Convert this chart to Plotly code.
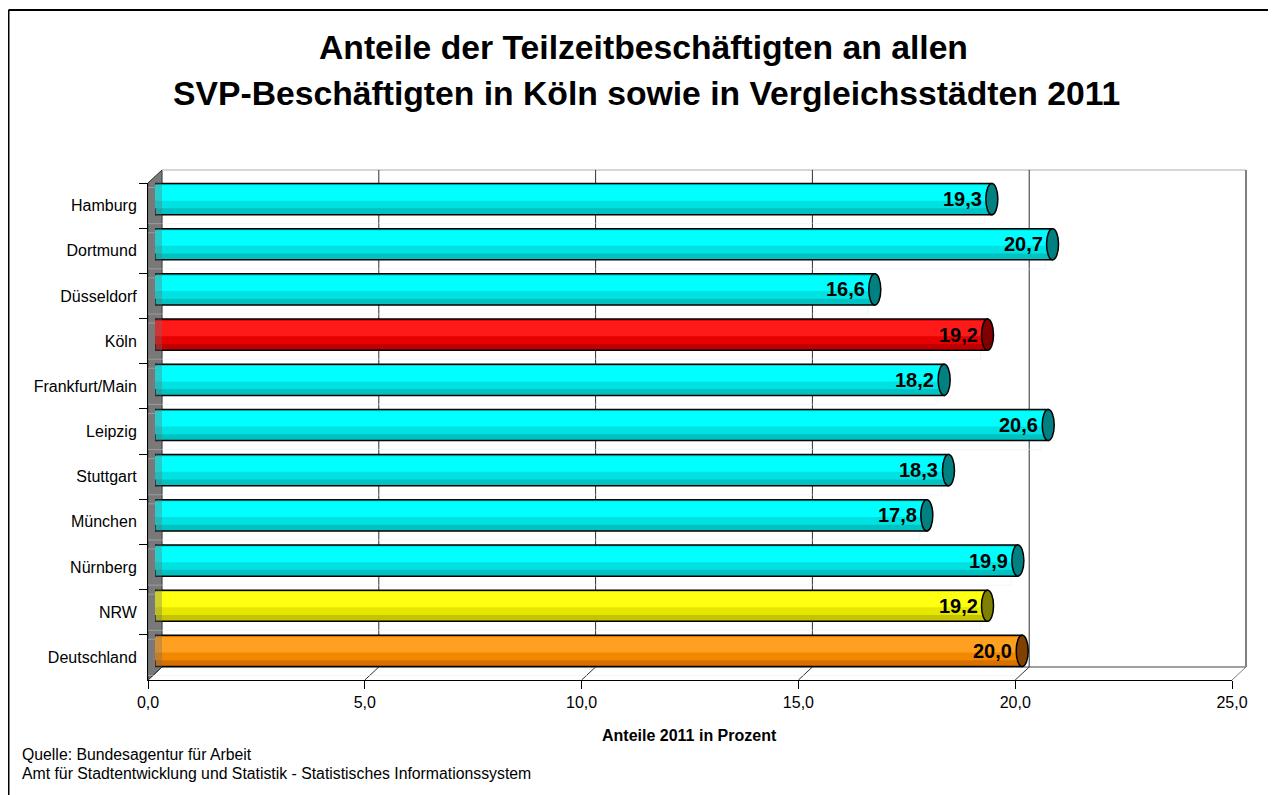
import plotly.graph_objects as go

# ---------------- data ----------------
categories = ["Hamburg", "Dortmund", "Düsseldorf", "Köln", "Frankfurt/Main", "Leipzig",
              "Stuttgart", "München", "Nürnberg", "NRW", "Deutschland"]
values = [19.3, 20.7, 16.6, 19.2, 18.2, 20.6, 18.3, 17.8, 19.9, 19.2, 20.0]
groups = ["city", "city", "city", "koeln", "city", "city", "city", "city", "city", "nrw", "de"]
x_ticks = [0, 5, 10, 15, 20, 25]

title_lines = ["Anteile der Teilzeitbeschäftigten an allen",
               "SVP-Beschäftigten in Köln sowie in Vergleichsstädten 2011"]
axis_title = "Anteile 2011 in Prozent"
source_lines = ["Quelle: Bundesagentur für Arbeit",
                "Amt für Stadtentwicklung und Statistik - Statistisches Informationssystem"]

# ---------------- styles ----------------
palette = {
    "city":  dict(base="#00C2C2", mid="#00E2E2", top="#00FFFF", cap="#008080"),
    "koeln": dict(base="#C00000", mid="#E60000", top="#FF1A1A", cap="#800000"),
    "nrw":   dict(base="#C4C400", mid="#E6E600", top="#FFFF10", cap="#808000"),
    "de":    dict(base="#D87000", mid="#F08800", top="#FFA020", cap="#804000"),
}
FONT = "Arial, Liberation Sans, sans-serif"

OFF = 8                       # page body margin offset
W_PX, H_PX = 1276 - OFF, 795 - OFF


def sx(p):  # screen px -> figure px
    return p - OFF


ML = sx(148)
MT = sx(170)
PLOT_R = sx(1246)
PLOT_B = sx(680)
MR, MB = W_PX - PLOT_R, H_PX - PLOT_B
PW, PH = W_PX - ML - MR, H_PX - MT - MB
DX, DY = 14, 13                           # depth offset (px)
FRONT_W = PW - DX
FRONT_H = PH - DY
XMAX = 25.0


def px(p):  # screen px -> paper x
    return (sx(p) - ML) / PW


def py(p):  # screen px -> paper y
    return (PLOT_B - sx(p)) / PH


def fx(v):  # front screen x of value v
    return 148 + v / XMAX * FRONT_W


FY = 680         # front floor y (screen)
BY = FY - DY     # back floor y
TOP = 170        # back wall top
LX = 148         # front left x

W = 0.69
n = len(categories)

fig = go.Figure()

fig.add_trace(go.Bar(x=values, y=categories, orientation="h", xaxis="x", yaxis="y",
                     marker=dict(color="rgba(0,0,0,0)"), hoverinfo="skip", showlegend=False))

base_c = [palette[g]["base"] for g in groups]
mid_c = [palette[g]["mid"] for g in groups]
top_c = [palette[g]["top"] for g in groups]

fig.add_trace(go.Bar(x=values, y=categories, orientation="h", xaxis="x2", yaxis="y2",
                     width=W, offset=-W / 2,
                     marker=dict(color=base_c, line=dict(color="black", width=1.5)),
                     hoverinfo="skip", showlegend=False))
fig.add_trace(go.Bar(x=values, y=categories, orientation="h", xaxis="x2", yaxis="y2",
                     width=0.52, offset=-W / 2 + 0.03,
                     marker=dict(color=mid_c, line=dict(width=0)),
                     hoverinfo="skip", showlegend=False))
fig.add_trace(go.Bar(x=values, y=categories, orientation="h", xaxis="x2", yaxis="y2",
                     width=0.34, offset=-W / 2 + 0.04,
                     marker=dict(color=top_c, line=dict(width=0)),
                     hoverinfo="skip", showlegend=False))

shapes = []

wall_path = (f"M {px(LX)} {py(FY)} L {px(LX)} {py(FY - FRONT_H)} "
             f"L {px(LX + DX)} {py(TOP)} L {px(LX + DX)} {py(BY)} Z")
shapes.append(dict(type="path", xref="paper", yref="paper", path=wall_path,
                   fillcolor="#808080", line=dict(color="#202020", width=1), layer="below"))
shapes.append(dict(type="line", xref="paper", yref="paper", x0=px(LX + DX), x1=px(LX + DX + FRONT_W),
                   y0=py(TOP), y1=py(TOP), line=dict(color="#C8C8C8", width=1.5), layer="below"))
shapes.append(dict(type="line", xref="paper", yref="paper", x0=px(LX + DX + FRONT_W), x1=px(LX + DX + FRONT_W),
                   y0=py(TOP), y1=py(BY), line=dict(color="#808080", width=2), layer="below"))
shapes.append(dict(type="line", xref="paper", yref="paper", x0=px(LX + DX), x1=px(LX + DX + FRONT_W),
                   y0=py(BY), y1=py(BY), line=dict(color="#808080", width=1.5), layer="below"))

for v in x_ticks:
    bx = fx(v) + DX
    if 0 < v < XMAX:
        shapes.append(dict(type="line", xref="paper", yref="paper", x0=px(bx), x1=px(bx),
                           y0=py(BY), y1=py(TOP), line=dict(color="#303030", width=1), layer="below"))
    shapes.append(dict(type="line", xref="paper", yref="paper", x0=px(fx(v)), x1=px(bx),
                       y0=py(FY), y1=py(BY),
                       line=dict(color="#303030" if v < XMAX else "#808080", width=1), layer="below"))

for i, (v, g) in enumerate(zip(values, groups)):
    c = palette[g]
    shapes.append(dict(type="circle", xref="x2", yref="y2", xsizemode="pixel", xanchor=0,
                       x0=-6, x1=6, y0=i - W / 2, y1=i + W / 2,
                       fillcolor=c["base"], line=dict(color="black", width=1.5), layer="between"))
    shapes.append(dict(type="circle", xref="x2", yref="y2", xsizemode="pixel", xanchor=v,
                       x0=-6, x1=6, y0=i - W / 2, y1=i + W / 2,
                       fillcolor=c["cap"], line=dict(color="black", width=1.5), layer="above"))

shapes.append(dict(type="path", xref="paper", yref="paper", path=wall_path,
                   fillcolor="rgba(110,110,110,0.35)", line=dict(width=0), layer="above"))

# outer frame (top + left)
shapes.append(dict(type="line", xref="paper", yref="paper", x0=px(8.5), x1=px(1276),
                   y0=py(10), y1=py(10), line=dict(color="black", width=2)))
shapes.append(dict(type="line", xref="paper", yref="paper", x0=px(8.5), x1=px(8.5),
                   y0=py(10), y1=py(795), line=dict(color="black", width=2)))

annotations = []
for cat, v in zip(categories, values):
    annotations.append(dict(x=v, y=cat, xref="x2", yref="y2", xanchor="right", yanchor="middle",
                            xshift=-8, showarrow=False,
                            text=f"{v:.1f}".replace(".", ","),
                            font=dict(family=FONT, size=20, color="black", weight="bold")))
annotations.append(dict(x=px(643), y=py(47), xref="paper", yref="paper", text=title_lines[0],
                        showarrow=False, xanchor="center", yanchor="middle",
                        font=dict(family=FONT, size=33.7, color="black", weight="bold")))
annotations.append(dict(x=px(646), y=py(93), xref="paper", yref="paper", text=title_lines[1],
                        showarrow=False, xanchor="center", yanchor="middle",
                        font=dict(family=FONT, size=33.7, color="black", weight="bold")))
annotations.append(dict(x=px(689), y=py(735), xref="paper", yref="paper", text=axis_title,
                        showarrow=False, xanchor="center", yanchor="middle",
                        font=dict(family=FONT, size=16, color="black", weight="bold")))
for k, line in enumerate(source_lines):
    annotations.append(dict(x=px(20), y=py(754 + 19 * k), xref="paper", yref="paper", text=line,
                            showarrow=False, xanchor="left", yanchor="middle",
                            font=dict(family=FONT, size=15.8, color="black")))

fig.update_layout(
    width=W_PX, height=H_PX,
    margin=dict(l=ML, r=MR, t=MT, b=MB, pad=0),
    paper_bgcolor="white", plot_bgcolor="rgba(0,0,0,0)",
    barmode="overlay", showlegend=False, separators=",.",
    font=dict(family=FONT, size=16, color="black"),
    xaxis=dict(domain=[0, FRONT_W / PW], range=[0, XMAX], tickvals=x_ticks, tickformat=".1f",
               ticks="outside", ticklen=8, tickcolor="black", showline=True, linecolor="black",
               linewidth=1, showgrid=False, zeroline=False, anchor="y",
               tickfont=dict(family=FONT, size=16, color="black")),
    yaxis=dict(domain=[0, FRONT_H / PH], type="category", categoryorder="array",
               categoryarray=categories, range=[n - 0.5, -0.5], tickson="boundaries",
               ticks="outside", ticklen=8, tickcolor="black", showline=True, linecolor="black",
               showgrid=False, zeroline=False, anchor="x", ticklabelstandoff=7,
               tickfont=dict(family=FONT, size=16, color="black")),
    xaxis2=dict(domain=[(DX / 2) / PW, (DX / 2 + FRONT_W) / PW], range=[0, XMAX], visible=False,
                anchor="y2", showgrid=False, zeroline=False),
    yaxis2=dict(domain=[(DY / 2) / PH, (DY / 2 + FRONT_H) / PH], type="category",
                categoryorder="array", categoryarray=categories, range=[n - 0.5, -0.5],
                visible=False, anchor="x2", showgrid=False, zeroline=False),
    shapes=shapes, annotations=annotations,
)

fig.write_html("out.html")
